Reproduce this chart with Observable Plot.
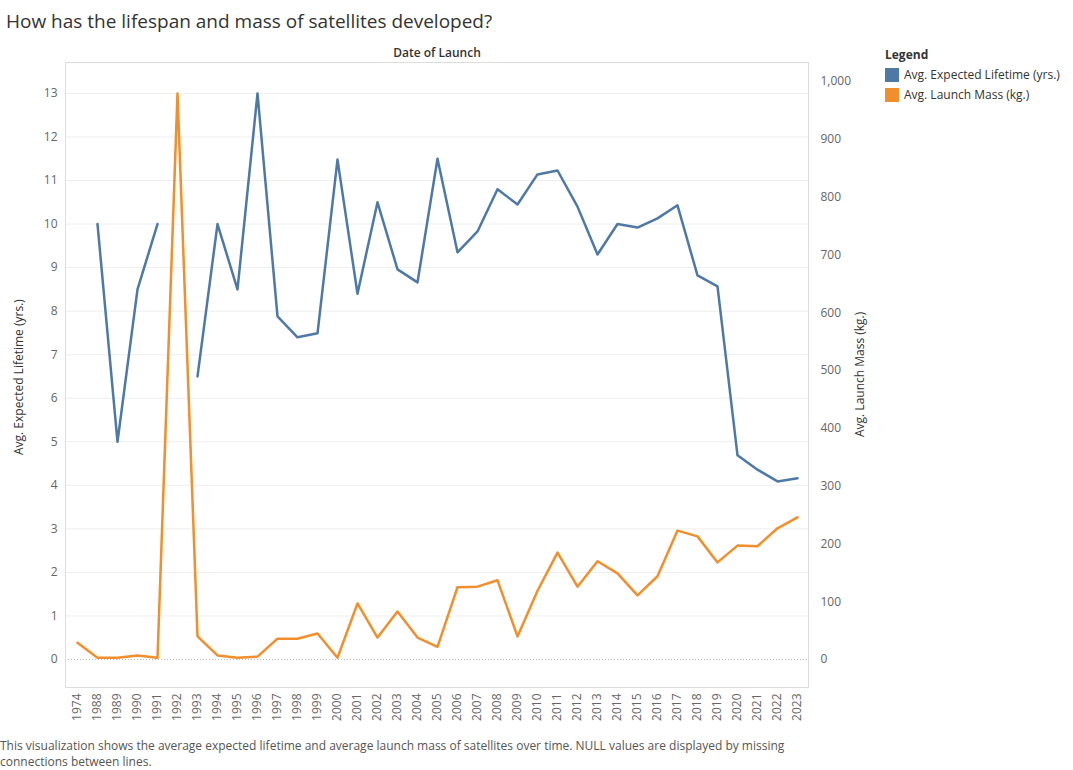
<!DOCTYPE html>
<html>
<head>
<meta charset="utf-8">
<script src="https://cdn.jsdelivr.net/npm/d3@7"></script>
<script src="https://cdn.jsdelivr.net/npm/@observablehq/plot@0.6"></script>
<style>
  body { margin: 0; font-family: "Open Sans", "DejaVu Sans", sans-serif; background: #fff; }
  .abs { position: absolute; }
  #title { left: 6px; top: 8px; font-size: 19px; color: #333; }
  #caption { left: 0px; top: 738px; width: 820px; font-size: 12px; color: #555; line-height: 16px; }
  .ylab { font-size: 12px; color: #333; transform: rotate(-90deg); transform-origin: 0 0; white-space: nowrap; }
  #legend { left: 885px; top: 46px; font-size: 12px; color: #333; }
  #legend .row { display: flex; align-items: center; margin-top: 3px; }
  #legend .sw { width: 14px; height: 14px; margin-right: 5px; }
</style>
</head>
<body>
<div id="title" class="abs">How has the lifespan and mass of satellites developed?</div>
<div id="chart" class="abs" style="left:0;top:38px"></div>
<div class="abs ylab" style="left:10px;top:455px">Avg. Expected Lifetime (yrs.)</div>
<div class="abs ylab" style="left:851px;top:437px">Avg. Launch Mass (kg.)</div>
<div id="legend" class="abs">
  <div style="font-weight:bold">Legend</div>
  <div class="row"><div class="sw" style="background:#4e79a7"></div>Avg. Expected Lifetime (yrs.)</div>
  <div class="row"><div class="sw" style="background:#f28e2b"></div>Avg. Launch Mass (kg.)</div>
</div>
<div id="caption" class="abs">This visualization shows the average expected lifetime and average launch mass of satellites over time. NULL values are displayed by missing connections between lines.</div>
<script>
const years = ["1974","1988","1989","1990","1991","1992","1993","1994","1995","1996","1997","1998","1999","2000",
  "2001","2002","2003","2004","2005","2006","2007","2008","2009","2010","2011","2012","2013","2014","2015","2016",
  "2017","2018","2019","2020","2021","2022","2023"];
const lifetime = [null,10.0,5.0,8.5,10.0,null,6.5,10.0,8.5,13.0,7.88,7.4,7.49,11.48,8.4,10.5,8.96,8.66,11.5,9.35,9.83,
  10.8,10.45,11.14,11.23,10.4,9.3,10.0,9.92,10.13,10.43,8.82,8.57,4.69,4.36,4.09,4.16];
const mass = [29,3,3,7,3,979,40,7,3,5,36,36,45,3,97,38,83,38,22,125,126,137,40,119,185,126,170,149,111,144,223,213,
  168,197,196,227,246];
const lifeTicks = d3.range(0, 14);
const massTicks = d3.range(0, 1100, 100);

const k = 0.013275; // kg -> lifetime-axis units
const rows = years.map((y, i) => ({year: y, life: lifetime[i], mass: mass[i] * k}));

const plot = Plot.plot({
  width: 880,
  height: 697,
  marginTop: 24,
  marginBottom: 48,
  marginLeft: 65,
  marginRight: 72,
  style: {fontFamily: "'Open Sans', sans-serif", fontSize: "12px", color: "#666"},
  x: {type: "point", domain: years, padding: 0.55, label: null},
  y: {domain: [-0.643, 13.71], label: null},
  marks: [
    Plot.gridY(lifeTicks.filter(d => d > 0), {stroke: "#eee", strokeOpacity: 1}),
    Plot.ruleY([0], {stroke: "#bbb", strokeDasharray: "1,2"}),
    Plot.frame({stroke: "#ddd"}),
    Plot.axisY(lifeTicks, {anchor: "left", tickSize: 0, tickPadding: 8, label: null, fill: "#666"}),
    Plot.axisY(massTicks.map(d => d * k), {anchor: "right", tickSize: 0, tickPadding: 12, label: null,
      tickFormat: d => Math.round(d / k), fill: "#666"}),
    Plot.axisX({anchor: "bottom", tickRotate: -90, tickSize: 0, tickPadding: 6, label: null, fill: "#666"}),
    Plot.text(["Date of Launch"], {frameAnchor: "top", dy: -14, fill: "#333", fontWeight: 600}),
    Plot.line(rows, {x: "year", y: "mass", stroke: "#f28e2b", strokeWidth: 2.5}),
    Plot.line(rows, {x: "year", y: "life", stroke: "#4e79a7", strokeWidth: 2.5})
  ]
});
document.querySelector("#chart").append(plot);
</script>
</body>
</html>
